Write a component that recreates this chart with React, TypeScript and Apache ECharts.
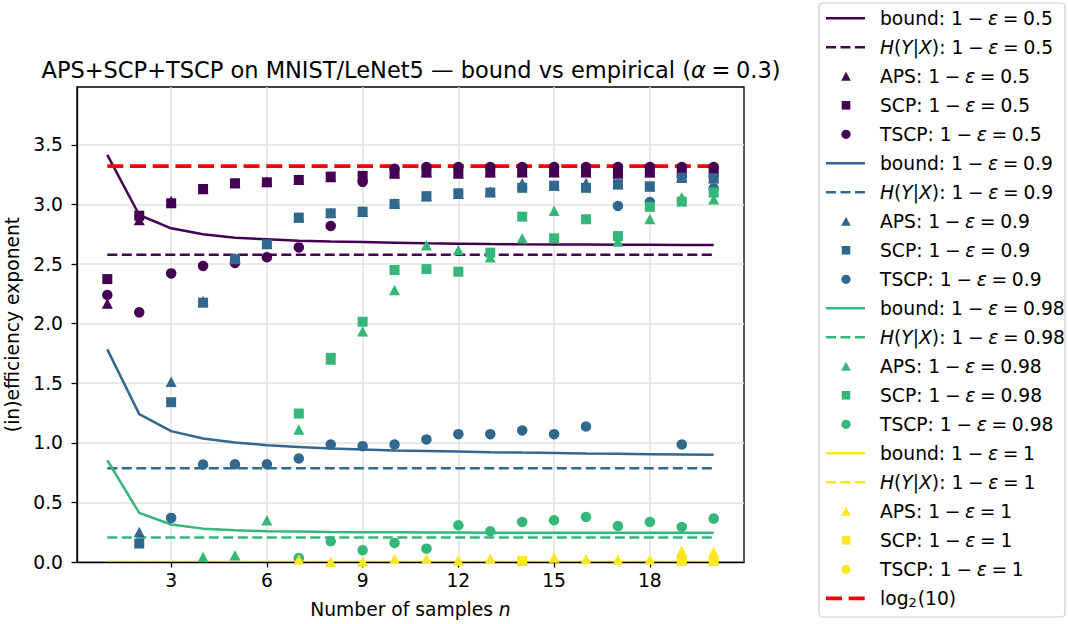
import React, { useEffect, useRef } from "react";
import * as echarts from "echarts";

// Sample sizes n on the x axis
const nValues = [1, 2, 3, 4, 5, 6, 7, 8, 9, 10, 11, 12, 13, 14, 15, 16, 17, 18, 19, 20];

// Coverage levels 1 - ε and their viridis colours
const levels = ["0.5", "0.9", "0.98", "1"];
const levelColors = ["#440154", "#31688e", "#35b779", "#fde725"];

// Theoretical bound per level
const boundLevel05 = [3.416, 2.912, 2.8, 2.75, 2.72, 2.708, 2.696, 2.69, 2.685, 2.68, 2.674, 2.671, 2.668, 2.666, 2.665, 2.664, 2.663, 2.662, 2.661, 2.66];
const boundLevel09 = [1.784, 1.241, 1.098, 1.036, 1.003, 0.98, 0.966, 0.952, 0.944, 0.936, 0.932, 0.927, 0.922, 0.918, 0.915, 0.911, 0.908, 0.905, 0.902, 0.899];
const boundLevel098 = [0.854, 0.412, 0.315, 0.28, 0.266, 0.258, 0.255, 0.252, 0.25, 0.249, 0.247, 0.247, 0.246, 0.246, 0.245, 0.245, 0.245, 0.245, 0.245, 0.245];
const boundLevel1 = [0, 0, 0, 0, 0, 0, 0, 0, 0, 0, 0, 0, 0, 0, 0, 0, 0, 0, 0, 0];

// Conditional entropy H(Y|X) per level
const entropyByLevel = [2.579, 0.787, 0.205, 0];

// Empirical exponents: APS
const apsLevel05 = [2.17, 2.87, 3.03, 3.13, 3.18, 3.19, 3.21, 3.23, 3.24, 3.26, 3.27, 3.26, 3.27, 3.27, 3.27, 3.27, 3.26, 3.27, 3.27, 3.27];
const apsLevel09 = [null, 0.252, 1.512, 2.19, 2.55, 2.67, 2.89, 2.93, 2.94, 3.01, 3.07, 3.09, 3.11, 3.178, 3.16, 3.18, 3.17, 3.15, 3.225, 3.22];
const apsLevel098 = [null, null, null, 0.042, 0.056, 0.35, 1.112, 1.7, 1.937, 2.282, 2.657, 2.618, 2.557, 2.716, 2.948, 2.88, 2.69, 2.878, 3.06, 3.044];
const apsLevel1 = [null, null, null, null, null, null, 0.02, 0.003, 0.005, 0.025, 0.028, 0.012, 0.028, 0.012, 0.037, 0.025, 0.02, 0.02, 0.092, 0.084];

// Empirical exponents: SCP
const scpLevel05 = [2.374, 2.906, 3.01, 3.13, 3.178, 3.186, 3.206, 3.234, 3.24, 3.262, 3.27, 3.265, 3.27, 3.272, 3.272, 3.272, 3.265, 3.27, 3.272, 3.275];
const scpLevel09 = [null, 0.155, 1.341, 2.176, 2.54, 2.666, 2.89, 2.926, 2.94, 3.004, 3.07, 3.094, 3.1, 3.14, 3.158, 3.14, 3.17, 3.153, 3.225, 3.22];
const scpLevel098 = [null, null, null, null, null, null, 1.246, 1.713, 2.016, 2.45, 2.458, 2.436, 2.596, 2.898, 2.716, 2.876, 2.735, 2.98, 3.024, 3.1];
const scpLevel1 = [null, null, null, null, null, null, null, null, null, null, null, null, null, 0.008, null, null, null, null, 0.008, 0.008];

// Empirical exponents: TSCP
const tscpLevel05 = [2.24, 2.095, 2.422, 2.484, 2.51, 2.557, 2.64, 2.82, 3.19, 3.3, 3.315, 3.315, 3.315, 3.315, 3.315, 3.315, 3.315, 3.315, 3.315, 3.315];
const tscpLevel09 = [null, null, 0.37, 0.818, 0.82, 0.82, 0.868, 0.986, 0.972, 0.986, 1.028, 1.073, 1.073, 1.104, 1.073, 1.137, 2.988, 3.02, 0.986, 3.135];
const tscpLevel098 = [null, null, null, null, null, null, 0.034, 0.174, 0.098, 0.16, 0.112, 0.308, 0.258, 0.336, 0.35, 0.378, 0.302, 0.336, 0.294, 0.364];
const tscpLevel1 = [null, null, null, null, null, null, null, null, null, null, null, null, null, null, null, null, null, null, null, null];

// Reference level log2(10)
const log2Ten = 3.3219;

// Axis ticks
const xTicks = [3, 6, 9, 12, 15, 18];
const yTicks = [0, 0.5, 1, 1.5, 2, 2.5, 3, 3.5];
const xMin = 0.05;
const xMax = 20.95;
const yMax = 3.986;

const boundByLevel = [boundLevel05, boundLevel09, boundLevel098, boundLevel1];
const apsByLevel = [apsLevel05, apsLevel09, apsLevel098, apsLevel1];
const scpByLevel = [scpLevel05, scpLevel09, scpLevel098, scpLevel1];
const tscpByLevel = [tscpLevel05, tscpLevel09, tscpLevel098, tscpLevel1];

const FONT = "DejaVu Sans";
const BASE = 18.7;
const SP = "\u2005";
const DASH_THIN = [10, 4.5];
const DASH_RED = [16, 6.7];
const LINE_W = 2.5;
const RED_W = 3.8;
const MARK = 10.5;

const richItalic = (size: number) => ({ fontStyle: "italic", fontSize: size, fontFamily: FONT, color: "#000" });
const richPlain = (size: number) => ({ fontSize: size, fontFamily: FONT, color: "#000" });

const eq = (lv: string) => `{n|1${SP}−${SP}}{i|ε}{n|${SP}=${SP}${lv}}`;

function pairs(values: (number | null)[]) {
  const out: number[][] = [];
  values.forEach((v, i) => {
    if (v !== null) out.push([nValues[i], v]);
  });
  return out;
}

function buildSeries() {
  const series: any[] = [];
  levels.forEach((lv, k) => {
    const color = levelColors[k];
    const lineZ = k === 3 ? 2 : 4;
    series.push({
      type: "line",
      name: `bound: 1 − ε = ${lv}`,
      data: pairs(boundByLevel[k]),
      symbol: "none",
      z: lineZ,
      lineStyle: { color, width: LINE_W },
    });
    series.push({
      type: "line",
      name: `H(Y|X): 1 − ε = ${lv}`,
      data: nValues.map((n) => [n, entropyByLevel[k]]),
      symbol: "none",
      z: lineZ,
      lineStyle: { color, width: LINE_W, type: DASH_THIN },
    });
    series.push({
      type: "scatter",
      name: `APS: 1 − ε = ${lv}`,
      data: pairs(apsByLevel[k]),
      symbol: "triangle",
      symbolSize: [MARK + 0.5, MARK],
      z: 5,
      itemStyle: { color, opacity: 1 },
    });
    series.push({
      type: "scatter",
      name: `SCP: 1 − ε = ${lv}`,
      data: pairs(scpByLevel[k]),
      symbol: "rect",
      symbolSize: MARK - 0.5,
      z: 5,
      itemStyle: { color, opacity: 1 },
    });
    series.push({
      type: "scatter",
      name: `TSCP: 1 − ε = ${lv}`,
      data: pairs(tscpByLevel[k]),
      symbol: "circle",
      symbolSize: MARK,
      z: 5,
      itemStyle: { color, opacity: 1 },
    });
  });
  series.push({
    type: "line",
    name: "log2(10)",
    data: nValues.map((n) => [n, log2Ten]),
    symbol: "none",
    z: 4,
    lineStyle: { color: "#ff0000", width: RED_W, type: DASH_RED },
  });
  return series;
}

// Legend rows: text (rich), handle kind, colour
type Row = { text: string; kind: string; color: string };
function legendRows(): Row[] {
  const rows: Row[] = [];
  levels.forEach((lv, k) => {
    const c = levelColors[k];
    rows.push({ text: `{n|bound: }${eq(lv)}`, kind: "line", color: c });
    rows.push({ text: `{i|H}{n|(}{i|Y}{n||}{i|X}{n|): }${eq(lv)}`, kind: "dash", color: c });
    rows.push({ text: `{n|APS: }${eq(lv)}`, kind: "triangle", color: c });
    rows.push({ text: `{n|SCP: }${eq(lv)}`, kind: "rect", color: c });
    rows.push({ text: `{n|TSCP: }${eq(lv)}`, kind: "circle", color: c });
  });
  rows.push({ text: "{n|log}{s|2}{n|(10)}", kind: "red", color: "#ff0000" });
  return rows;
}

function buildLegend() {
  const els: any[] = [];
  const boxX = 819;
  const boxY = 3;
  const rowY0 = 18.3;
  const pitch = 29;
  const hx0 = 826;
  const hx1 = 865;
  const hxc = 846;
  const textX = 880;
  els.push({
    type: "rect",
    shape: { x: boxX, y: boxY, width: 246, height: 614, r: 4 },
    style: { fill: "rgba(255,255,255,0.8)", stroke: "#cccccc", lineWidth: 1.2 },
    z: 20,
  });
  const rich = {
    n: richPlain(BASE),
    i: richItalic(BASE),
    s: { fontSize: 13, fontFamily: FONT, color: "#000", padding: [9, 1, 0, 0] },
  };
  legendRows().forEach((row, r) => {
    const cy = rowY0 + pitch * r;
    if (row.kind === "line" || row.kind === "dash" || row.kind === "red") {
      els.push({
        type: "line",
        shape: { x1: hx0, y1: cy, x2: hx1, y2: cy },
        style: {
          stroke: row.color,
          lineWidth: row.kind === "red" ? RED_W : LINE_W,
          lineDash: row.kind === "dash" ? DASH_THIN : row.kind === "red" ? DASH_RED : null,
        },
        z: 21,
      });
    } else if (row.kind === "triangle") {
      els.push({
        type: "polygon",
        shape: { points: [[hxc, cy - 4.6], [hxc - 4.8, cy + 4.4], [hxc + 4.8, cy + 4.4]] },
        style: { fill: row.color },
        z: 21,
      });
    } else if (row.kind === "rect") {
      els.push({
        type: "rect",
        shape: { x: hxc - 4.3, y: cy - 4.3, width: 8.6, height: 8.6 },
        style: { fill: row.color },
        z: 21,
      });
    } else {
      els.push({
        type: "circle",
        shape: { cx: hxc, cy, r: 4.6 },
        style: { fill: row.color },
        z: 21,
      });
    }
    els.push({
      type: "text",
      x: textX,
      y: cy,
      style: {
        text: row.text,
        rich,
        fontSize: BASE,
        fontFamily: FONT,
        fill: "#000",
        align: "left",
        verticalAlign: "middle",
      },
      z: 21,
    });
  });
  return els;
}

function buildTitle() {
  return {
    type: "text",
    x: 411,
    y: 70,
    style: {
      text: `{n|APS+SCP+TSCP on MNIST/LeNet5 — bound vs empirical (}{i|α}{n|${SP}=${SP}0.3)}`,
      rich: { n: richPlain(22.5), i: richItalic(22.5) },
      fontSize: 22.5,
      fontFamily: FONT,
      fill: "#000",
      align: "center",
      verticalAlign: "middle",
    },
    z: 20,
  };
}

export default function App() {
  const ref = useRef<HTMLDivElement>(null);

  useEffect(() => {
    if (!ref.current) return;
    const chart = echarts.init(ref.current, undefined, { renderer: "svg" });
    const axisText = { fontSize: BASE, fontFamily: FONT, color: "#000" };
    const option: any = {
      animation: false,
      backgroundColor: "#ffffff",
      textStyle: { fontFamily: FONT },
      grid: {
        left: 77,
        top: 87,
        width: 667,
        height: 475,
        show: true,
        borderColor: "#000",
        borderWidth: 1.3,
        backgroundColor: "transparent",
        containLabel: false,
        outerBoundsMode: "none",
      },
      xAxis: {
        type: "value",
        min: xMin,
        max: xMax,
        z: 3,
        axisLine: { show: true, onZero: false, lineStyle: { color: "#000", width: 1.3 } },
        axisTick: { show: true, length: 5.5, lineStyle: { color: "#000", width: 1.3 }, customValues: xTicks },
        axisLabel: { ...axisText, margin: 9, customValues: xTicks },
        splitLine: { show: true, lineStyle: { color: "#e2e2e2", width: 1.5 } },
        name: "Number of samples {i|n}",
        nameLocation: "middle",
        nameGap: 38,
        nameTextStyle: { ...axisText, rich: { i: richItalic(BASE) } },
      },
      yAxis: {
        type: "value",
        min: 0,
        max: yMax,
        z: 3,
        axisLine: { show: true, onZero: false, lineStyle: { color: "#000", width: 1.3 } },
        axisTick: { show: true, length: 5.5, lineStyle: { color: "#000", width: 1.3 }, customValues: yTicks },
        axisLabel: { ...axisText, margin: 14, customValues: yTicks, formatter: (v: number) => v.toFixed(1) },
        splitLine: { show: true, lineStyle: { color: "#e2e2e2", width: 1.5 } },
        name: "(in)efficiency exponent",
        nameLocation: "middle",
        nameGap: 50,
        nameTextStyle: axisText,
      },
      series: buildSeries(),
      graphic: [buildTitle(), ...buildLegend()],
    };
    chart.setOption(option);
    return () => chart.dispose();
  }, []);

  return (
    <div
      ref={ref}
      style={{ position: "fixed", left: 0, top: 0, width: 1068, height: 624, background: "#fff" }}
    />
  );
}
